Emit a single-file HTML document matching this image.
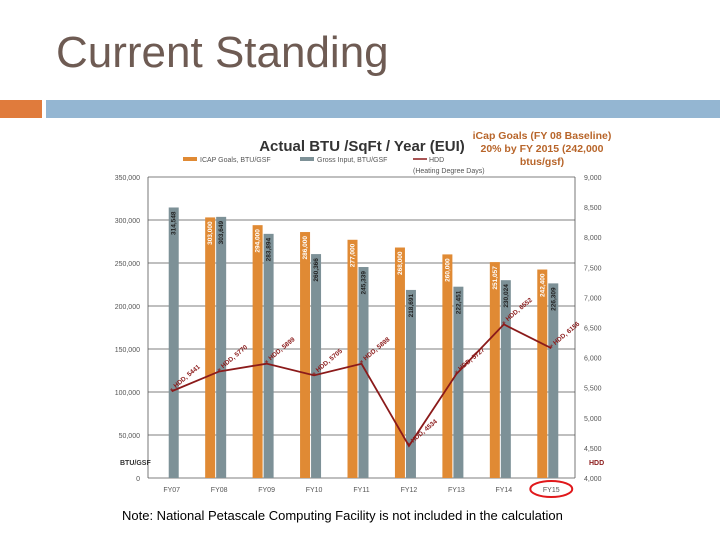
<!DOCTYPE html>
<html><head><meta charset="utf-8"><style>
body{margin:0;width:720px;height:540px;overflow:hidden;background:#fff;font-family:"Liberation Sans",sans-serif;position:relative}
#title{position:absolute;left:56px;top:28px;font-size:44px;color:#6e5b53;}
#note{position:absolute;left:122px;top:508px;font-size:13px;color:#000}
</style></head><body>
<div id="title">Current Standing</div>
<div style="position:absolute;left:0;top:100px;width:42px;height:18px;background:#e07b3c"></div>
<div style="position:absolute;left:46px;top:100px;width:674px;height:18px;background:#94b6d2"></div>
<svg id="chart" width="720" height="540" style="position:absolute;left:0;top:0" font-family="Liberation Sans, sans-serif"></svg>
<div id="note">Note: National Petascale Computing Facility is not included in the calculation</div>
<script>
const categories=["FY07","FY08","FY09","FY10","FY11","FY12","FY13","FY14","FY15"];
const icapGoals=[null,303000,294000,286000,277000,268000,260000,251057,242400];
const grossInput=[314548,303649,283894,260366,245339,218691,222451,230024,226309];
const hdd=[5441,5770,5899,5705,5898,4534,5727,6552,6156];
const leftTicks=[0,50000,100000,150000,200000,250000,300000,350000];
const rightTicks=[4000,4500,5000,5500,6000,6500,7000,7500,8000,8500,9000];
const NS="http://www.w3.org/2000/svg";
const svg=document.getElementById('chart');
const X0=148,X1=575,Y0=478,Y1=177;
const step=(X1-X0)/categories.length;
const cx=i=>X0+step*(i+0.5);
const yL=v=>Y0-(v/350000)*(Y0-Y1);
const yR=v=>Y0-((v-4000)/5000)*(Y0-Y1);
const fmt=v=>v.toLocaleString('en-US');
function el(t,a,p){const e=document.createElementNS(NS,t);for(const k in a)e.setAttribute(k,a[k]);(p||svg).appendChild(e);return e;}
let t=el('text',{x:362,y:151,'font-size':15,'font-weight':'bold','text-anchor':'middle',fill:'#333'});t.textContent='Actual BTU /SqFt / Year (EUI)';

const gl=[['iCap Goals (FY 08 Baseline)',141],['20% by FY 2015 (242,000',154],['btus/gsf)',167]];
gl.forEach(g=>{const e=el('text',{x:542,y:g[1]-2,'font-size':10.5,'font-weight':'bold','text-anchor':'middle',fill:'#b8652a'});e.textContent=g[0];
});
const lg=el('g',{});
el('rect',{x:183,y:157,width:14,height:4,fill:'#e08a34'},lg);
let e1=el('text',{x:200,y:162,'font-size':7,fill:'#555'},lg);e1.textContent='ICAP Goals, BTU/GSF';
el('rect',{x:300,y:157,width:14,height:4,fill:'#7d9197'},lg);
let e2=el('text',{x:317,y:162,'font-size':7,fill:'#555'},lg);e2.textContent='Gross Input, BTU/GSF';
el('line',{x1:413,y1:159,x2:427,y2:159,stroke:'#8b1a1a','stroke-width':1.5},lg);
let e3=el('text',{x:429,y:162,'font-size':7,fill:'#555'},lg);e3.textContent='HDD';
let e4=el('text',{x:413,y:173,'font-size':7,fill:'#555'},lg);e4.textContent='(Heating Degree Days)';
leftTicks.forEach(v=>{const y=yL(v);
const g=el('line',{x1:X0,y1:y,x2:X1,y2:y,stroke:'#555','stroke-width':0.8});
const tx=el('text',{x:140,y:y+3,'font-size':7,'text-anchor':'end',fill:'#555'});tx.textContent=fmt(v);
});
rightTicks.forEach(v=>{const y=yR(v);
const tx=el('text',{x:584,y:y+3,'font-size':7,fill:'#555'});tx.textContent=fmt(v);
});
el('line',{x1:X0,y1:Y1,x2:X0,y2:Y0,stroke:'#555','stroke-width':0.8});
el('line',{x1:X1,y1:Y1,x2:X1,y2:Y0,stroke:'#555','stroke-width':0.8});
let bl=el('text',{x:120,y:465,'font-size':7,'font-weight':'bold',fill:'#333'});bl.textContent='BTU/GSF';

let hl=el('text',{x:589,y:465,'font-size':7,'font-weight':'bold',fill:'#8b1a1a'});hl.textContent='HDD';

const BW=10;
categories.forEach((c,i)=>{
 const x=cx(i);
 if(icapGoals[i]!=null){const v=icapGoals[i];const y=yL(v);
  const r=el('rect',{x:x-14,y:y,width:BW,height:Y0-y,fill:'#e08a34'});
  
  const l=el('text',{transform:`translate(${x-7},${y+4}) rotate(-90)`,'font-size':6.5,'font-weight':'bold','text-anchor':'end',fill:'#fff'});l.textContent=fmt(v);
  }
 const v=grossInput[i];const y=yL(v);
 const r=el('rect',{x:x-3,y:y,width:BW,height:Y0-y,fill:'#7d9197'});
 
 const l=el('text',{transform:`translate(${x+4},${y+4}) rotate(-90)`,'font-size':6.5,'font-weight':'bold','text-anchor':'end',fill:'#222'});l.textContent=fmt(v);
 
 const xl=el('text',{x:x,y:492,'font-size':7,'text-anchor':'middle',fill:'#555'});xl.textContent=c;
 
});
const pts=hdd.map((v,i)=>cx(i)+','+yR(v)).join(' ');
const pl=el('polyline',{points:pts,fill:'none',stroke:'#8b1a1a','stroke-width':1.8});

hdd.forEach((v,i)=>{const x=cx(i),y=yR(v);
 const m=el('text',{x:x,y:y+3,'font-size':9,'text-anchor':'middle',fill:'#8b1a1a'});m.textContent='*';
 
 const l=el('text',{transform:`translate(${x+4},${y-3}) rotate(-40)`,'font-size':6.5,'font-weight':'bold',fill:'#8b1a1a'});l.textContent='HDD, '+v;
 });
const ci=el('ellipse',{cx:cx(8),cy:489,rx:21,ry:8,fill:'none',stroke:'#e0181b','stroke-width':2});

</script>
</body></html>
